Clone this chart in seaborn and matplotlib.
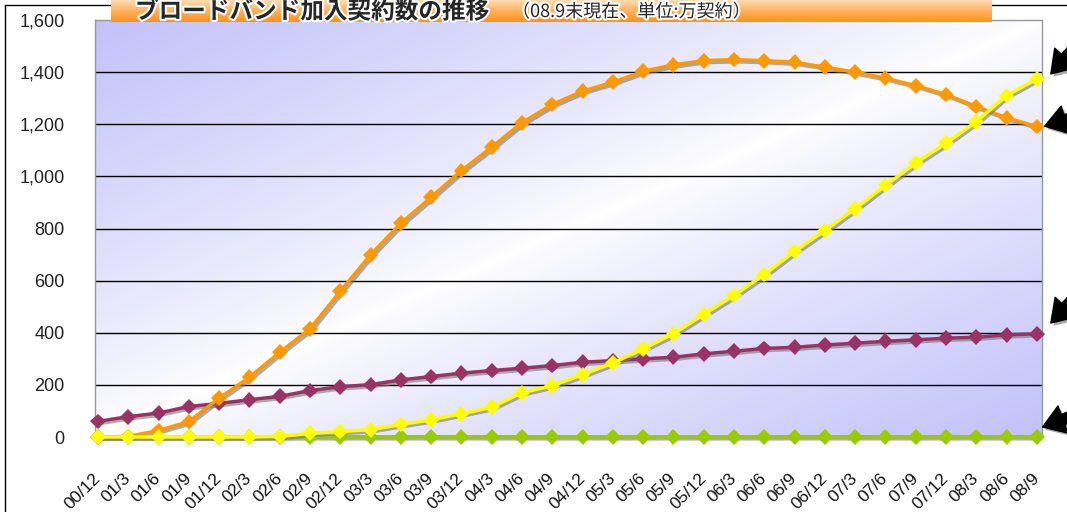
import numpy as np
import pandas as pd
import matplotlib
matplotlib.use("Agg")
import matplotlib.pyplot as plt
import matplotlib.patheffects as pe
from matplotlib.patches import FancyArrowPatch
from matplotlib.lines import Line2D
from matplotlib.colors import LinearSegmentedColormap
import seaborn as sns

# データ（単位:万契約）
periods = ["00/12", "01/3", "01/6", "01/9", "01/12", "02/3", "02/6", "02/9", "02/12",
           "03/3", "03/6", "03/9", "03/12", "04/3", "04/6", "04/9", "04/12",
           "05/3", "05/6", "05/9", "05/12", "06/3", "06/6", "06/9", "06/12",
           "07/3", "07/6", "07/9", "07/12", "08/3", "08/6", "08/9"]
dsl = [0, 2, 25, 59, 149, 229, 325, 415, 559, 699, 820, 920, 1022, 1112, 1206, 1276,
       1327, 1361, 1403, 1428, 1444, 1448, 1444, 1438, 1419, 1400, 1377, 1348, 1314,
       1268, 1225, 1191]
ftth = [0, 0, 0, 0, 0, 0, 2, 14, 21, 28, 48, 66, 89, 114, 170, 197,
        239, 284, 338, 396, 470, 543, 623, 712, 792, 876, 965, 1051, 1127,
        1210, 1310, 1374]
catv = [60, 78, 92, 117, 129, 143, 156, 178, 193, 201, 219, 232, 245, 255, 264, 274,
        287, 293, 300, 306, 319, 329, 340, 344, 353, 360, 367, 373, 379,
        383, 392, 396]
fwa = [0, 0, 0, 0, 0, 0, 0, 1, 1, 1, 1, 1, 1, 1, 1, 1,
       1, 1, 1, 1, 1, 1, 1, 1, 1, 1, 1, 1, 1, 1, 1, 1]

df = pd.DataFrame({"idx": range(len(periods)), "period": periods,
                   "FWA": fwa, "CATV": catv, "DSL": dsl, "FTTH": ftth})

sns.set_theme(style="white")
plt.rcParams["font.family"] = ["Liberation Sans", "Noto Sans CJK JP", "DejaVu Sans"]

W, H = 1067, 512
fig = plt.figure(figsize=(W / 100, H / 100), dpi=100)
fig.patch.set_facecolor("white")

def fx(px):
    return px / W

def fy(py):
    return 1 - py / H

# plot area
ax_rect = [fx(95), fy(437), fx(1042) - fx(95), fy(20) - fy(437)]

# gradient background
bg = fig.add_axes(ax_rect, zorder=0)
gx, gy = np.meshgrid(np.linspace(0, 1, 300), np.linspace(0, 1, 150))
s = (gx + gy) / 2
w = np.abs(2 * s - 1) ** 0.8
lav = np.array([194, 194, 250]) / 255
white = np.array([1.0, 1.0, 1.0])
img = white * (1 - w[..., None]) + lav * w[..., None]
bg.imshow(img, aspect="auto", extent=[0, 1, 1, 0], interpolation="bilinear")
bg.set_axis_off()

ax = fig.add_axes(ax_rect, zorder=1)
ax.patch.set_alpha(0)

shadow = [pe.SimpleLineShadow(offset=(1.5, -1.5), shadow_color="#777777", alpha=0.6),
          pe.Normal()]

series = [("FWA", "#99CC00"), ("CATV", "#993366"), ("DSL", "#FF9900"), ("FTTH", "#FFFF00")]
for i, (name, col) in enumerate(series):
    sns.lineplot(data=df, x="idx", y=name, ax=ax, color=col, lw=2.5, marker="D",
                 markersize=8, markeredgewidth=0, clip_on=False, zorder=3 + i,
                 path_effects=shadow)

ax.set_xlim(-0.1, 31.17)
ax.set_ylim(0, 1600)
ax.set_yticks(range(0, 1601, 200))
ax.set_yticklabels([f"{v:,}" for v in range(0, 1601, 200)], fontsize=13, color="#222222")
for v in range(200, 1600, 200):
    ax.axhline(v, color="black", lw=1, zorder=2)
ax.tick_params(axis="y", length=0, pad=22)
ax.set_xticks(range(len(periods)))
ax.set_xticklabels(periods, rotation=45, ha="right", va="center",
                   rotation_mode="anchor", fontsize=12.5, color="#111111")
ax.tick_params(axis="x", direction="in", length=4, width=1, color="black", pad=28)
ax.set_xlabel("")
ax.set_ylabel("")
for sp in ax.spines.values():
    sp.set_color("#999999")
    sp.set_linewidth(1)

# outer frame
fig.add_artist(Line2D([fx(5), fx(5)], [0, fy(5)], color="black", lw=1))
fig.add_artist(Line2D([fx(5), 1], [fy(5), fy(5)], color="black", lw=1))

# title banner
bax = fig.add_axes([fx(111), fy(22), fx(992) - fx(111), fy(0) - fy(22)], zorder=5)
cmap = LinearSegmentedColormap.from_list("ban", ["#FFDDB0", "#FFB060", "#FF9410"])
bax.imshow(np.linspace(0, 1, 50)[:, None], aspect="auto", cmap=cmap,
           extent=[0, 1, 1, 0])
bax.set_axis_off()

stroke = [pe.withStroke(linewidth=3, foreground="white")]
fig.text(fx(135), fy(11.5), "ブロードバンド加入契約数の推移", fontsize=17, fontweight="bold",
         family=["Noto Sans CJK JP"], va="center", ha="left", zorder=6,
         path_effects=stroke)
fig.text(fx(512), fy(12), "（08.9末現在、単位:万契約）", fontsize=13,
         family=["Noto Sans CJK JP"], va="center", ha="left", zorder=6,
         path_effects=stroke)

# arrows at right edge
arrows = [((1078, 44), (1049, 76)), ((1078, 116), (1042, 127)),
          ((1078, 294), (1049, 325)), ((1078, 414), (1040, 428))]
for tail, tip in arrows:
    a = FancyArrowPatch((fx(tail[0]), fy(tail[1])), (fx(tip[0]), fy(tip[1])),
                        transform=fig.transFigure,
                        arrowstyle="simple,head_width=1.6,head_length=1.2,tail_width=0.6",
                        mutation_scale=13, color="black", zorder=7,
                        path_effects=[pe.SimplePatchShadow(offset=(2, -2), shadow_rgbFace="#888888",
                                                           alpha=0.7), pe.Normal()])
    fig.add_artist(a)

fig.savefig("out.png", dpi=100)
